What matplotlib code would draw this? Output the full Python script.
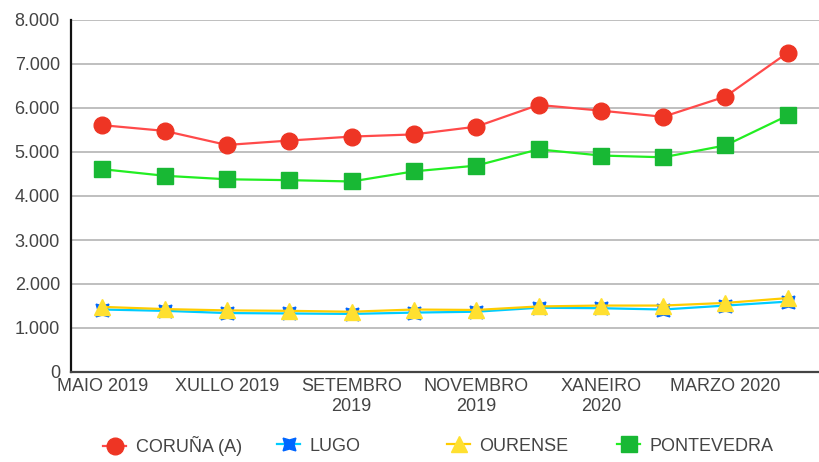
import matplotlib
matplotlib.use("Agg")
import matplotlib.pyplot as plt
from matplotlib.ticker import FuncFormatter, FixedLocator
from matplotlib.lines import Line2D

months = ["MAIO 2019", "XUÑO 2019", "XULLO 2019", "AGOSTO 2019", "SETEMBRO\n2019",
          "OUTUBRO 2019", "NOVEMBRO\n2019", "DECEMBRO 2019", "XANEIRO\n2020",
          "FEBREIRO 2020", "MARZO 2020", "ABRIL 2020"]
coruna = [5610, 5480, 5160, 5260, 5350, 5400, 5575, 6070, 5940, 5800, 6260, 7260]
lugo = [1420, 1390, 1340, 1330, 1320, 1350, 1370, 1460, 1450, 1420, 1510, 1600]
ourense = [1480, 1430, 1400, 1390, 1370, 1420, 1410, 1490, 1510, 1510, 1570, 1680]
pontevedra = [4610, 4460, 4380, 4360, 4330, 4560, 4690, 5060, 4920, 4880, 5150, 5830]
series_names = ["CORUÑA (A)", "LUGO", "OURENSE", "PONTEVEDRA"]
yticks = [0, 1000, 2000, 3000, 4000, 5000, 6000, 7000, 8000]

plt.rcParams['font.family'] = ['Liberation Sans', 'DejaVu Sans']

fig = plt.figure(figsize=(8.19, 4.62), dpi=100)
ax = fig.add_axes([71/819, 1 - 372/462, 1 - 71/819, (372 - 20)/462])

x = list(range(len(months)))
styles = [
    dict(color="#FF4A4A", marker="o", mfc="#EE3524", mec="#EE3524", ms=12),
    dict(color="#00CCFF", marker=(4, 1, 45), mfc="#0066FF", mec="#0066FF", ms=13),
    dict(color="#FFCC00", marker="^", mfc="#FFE030", mec="#FFE030", ms=12),
    dict(color="#22EE22", marker="s", mfc="#18B834", mec="#18B834", ms=11),
]
data = [coruna, lugo, ourense, pontevedra]
handles = []
for name, vals, st in zip(series_names, data, styles):
    h, = ax.plot(x, vals, lw=1.6, label=name, zorder=3, **st)
    handles.append(h)

ax.set_xlim(-0.5, len(months) - 0.5)
ax.set_ylim(0, 8000)
ax.yaxis.set_major_locator(FixedLocator(yticks))
ax.yaxis.set_major_formatter(FuncFormatter(lambda v, p: f"{int(v):,}".replace(",", ".")))
ax.set_xticks(x[::2])
ax.set_xticklabels(months[::2], linespacing=1.3)
ax.tick_params(axis="both", length=0, labelsize=13, colors="#444444")
ax.tick_params(axis="y", pad=8)
ax.tick_params(axis="x", pad=4)
ax.grid(axis="y", color="#B4B4B4", lw=1.2)
ax.set_axisbelow(True)
for s in ["top", "right"]:
    ax.spines[s].set_visible(False)
ax.spines["left"].set_color("#111111")
ax.spines["left"].set_linewidth(1.6)
ax.spines["bottom"].set_color("#444444")
ax.spines["bottom"].set_linewidth(1.6)

leg_x = [103/819, 277/819, 447/819, 617/819]
for h, lx in zip(handles, leg_x):
    lh = Line2D([], [], color=h.get_color(), lw=1.6, marker=h.get_marker(),
                mfc=h.get_markerfacecolor(), mec=h.get_markeredgecolor(),
                ms=h.get_markersize())
    fig.legend([lh], [h.get_label()], loc="center left", bbox_to_anchor=(lx, 0.034),
               frameon=False, fontsize=13, handlelength=1.3, handletextpad=0.5,
               borderpad=0, borderaxespad=0, labelcolor="#444444")

fig.savefig("out.png", dpi=100)
